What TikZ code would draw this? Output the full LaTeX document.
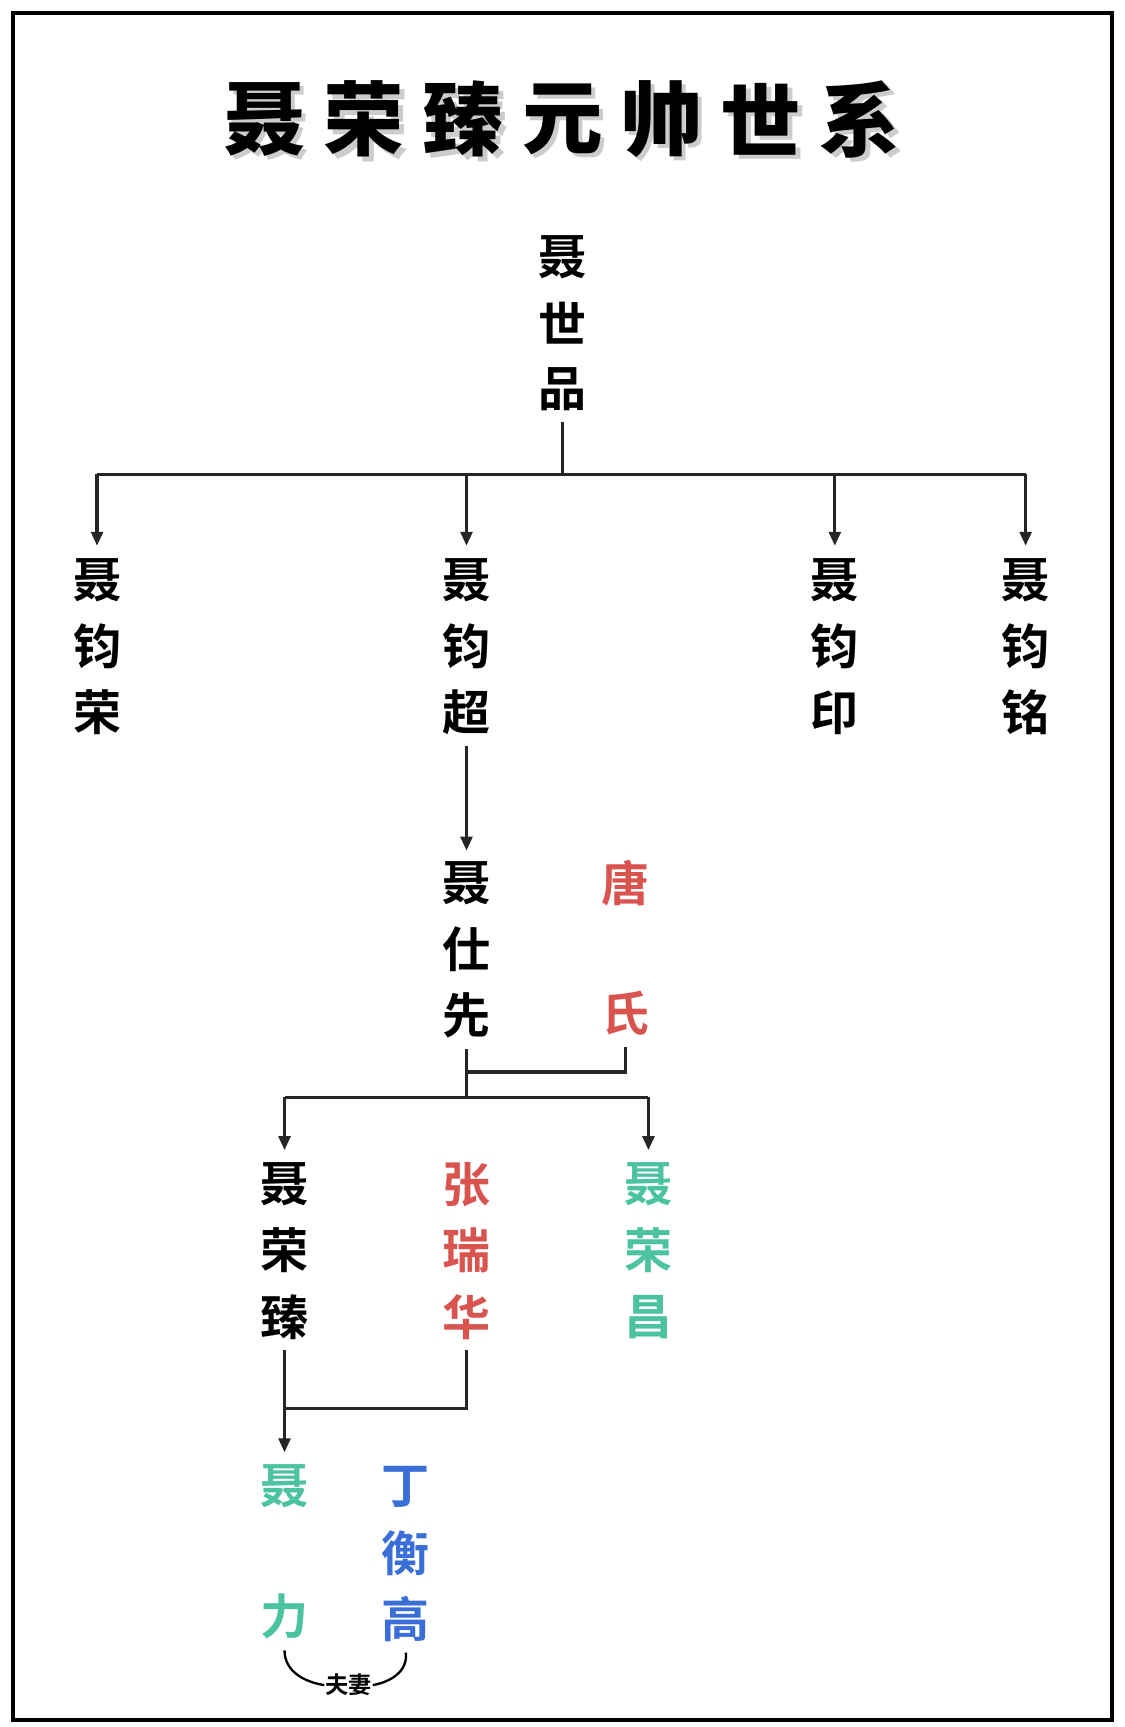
\documentclass[tikz,border=0pt]{standalone}
\usepackage{fontspec}
\newfontfamily\cjk{Noto Sans CJK SC Bold}
\newfontfamily\cjkblack{Noto Sans CJK SC Black}
\usetikzlibrary{arrows.meta}
\definecolor{cred}{HTML}{D9534F}
\definecolor{cteal}{HTML}{4CC3A0}
\definecolor{cblue}{HTML}{3A6FD8}
\tikzset{ch/.style={font=\cjk\fontsize{62}{62}\selectfont,inner sep=0pt},
 ln/.style={line width=4.2pt,draw=black!85},
 arr/.style={ln,-{Triangle[length=18pt,width=15pt]}}}
\begin{document}
\begin{tikzpicture}[x=0.05cm,y=-0.05cm]
\useasboundingbox (0,0) rectangle (1020,1566);
\fill[white] (0,0) rectangle (1020,1566);
\draw[line width=5pt] (12,12) rectangle (1008,1560);
% title
\foreach \c [count=\i] in {聂,荣,臻,元,帅,世,系}{
 \node[font=\cjkblack\fontsize{104}{104}\selectfont,text=black!20,inner sep=0pt] at (150+90*\i+4,112) {\c};
 \node[font=\cjkblack\fontsize{104}{104}\selectfont,inner sep=0pt] (t\i) at (150+90*\i,108) {\c};}
% persons
\newcommand\vname[5]{% name prefix, x, color, chars, y start
 \foreach \c [count=\i] in {#4}{\node[ch,text=#3] (#1\i) at (#2,#5+60*\i-60) {\c};}}
\vname{a}{510}{black}{聂,世,品}{233}
\vname{b}{88}{black}{聂,钧,荣}{526}
\vname{c}{423}{black}{聂,钧,超}{526}
\vname{d}{757}{black}{聂,钧,印}{526}
\vname{e}{930}{black}{聂,钧,铭}{526}
\vname{f}{423}{black}{聂,仕,先}{801}
\node[ch,text=cred] (g1) at (567,801) {唐};
\node[ch,text=cred] (g2) at (567,919) {氏};
\vname{h}{258}{black}{聂,荣,臻}{1074}
\vname{i}{423}{cred}{张,瑞,华}{1074}
\vname{j}{588}{cteal}{聂,荣,昌}{1074}
\node[ch,text=cteal] (k1) at (258,1348) {聂};
\node[ch,text=cteal] (k2) at (258,1466) {力};
\vname{l}{368}{cblue}{丁,衡,高}{1348}
% connectors
\coordinate (ja) at (510,430);
\draw[ln] ([yshift=-14pt]a3.south) -- (ja);
\draw[ln] (88,430) -- (930,430);
\foreach \n/\x in {b/88,c/423,d/757,e/930}{\draw[arr] (\x,430) -- ([yshift=16pt]\n1.north);}
\draw[arr] ([yshift=-14pt]c3.south) -- ([yshift=14pt]f1.north);
\coordinate (m) at (423,995);
\draw[ln] ([yshift=-14pt]f3.south) -- (m);
\draw[ln] ([yshift=-14pt]g2.south) |- (423,972);
\draw[ln] (258,995) -- (588,995);
\draw[arr] (258,995) -- ([yshift=16pt]h1.north);
\draw[arr] (588,995) -- ([yshift=16pt]j1.north);
\draw[arr] ([yshift=-14pt]h3.south) -- ([yshift=16pt]k1.north);
\draw[ln] ([yshift=-14pt]i3.south) |- (258,1277);
\node[font=\cjk\fontsize{30}{30}\selectfont,inner sep=1pt] (fq) at (316,1528) {夫妻};
\draw[line width=3pt] ([yshift=-14pt]k2.south) .. controls (258,1515) and (275,1525) .. (fq.west);
\draw[line width=3pt] ([yshift=-14pt]l3.south) .. controls (370,1515) and (355,1525) .. (fq.east);
\end{tikzpicture}
\end{document}
